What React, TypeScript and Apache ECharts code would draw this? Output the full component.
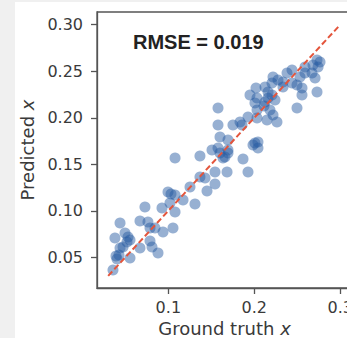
import React, { useEffect, useRef } from "react";
import * as echarts from "echarts";

const groundTruth = [
  0.0356, 0.0391, 0.0426, 0.0403, 0.0438, 0.0379, 0.0496, 0.0531, 0.0554, 0.0519,
  0.0473, 0.0438, 0.0554, 0.0670, 0.0728, 0.0670, 0.0763, 0.0787, 0.0845, 0.0787,
  0.0810, 0.0880, 0.0938, 0.1054, 0.0926, 0.0996, 0.1031, 0.1019, 0.1078, 0.1171,
  0.1310, 0.1078, 0.1252, 0.1368, 0.1427, 0.1450, 0.1078, 0.1368, 0.1508, 0.1601,
  0.1659, 0.1694, 0.1869, 0.1985, 0.2043, 0.1543, 0.1683, 0.1927, 0.1543, 0.1578,
  0.1636, 0.1694, 0.1578, 0.1578, 0.1752, 0.1834, 0.1927, 0.2032, 0.2148, 0.2218,
  0.2264, 0.1601, 0.1694, 0.2008, 0.2043, 0.1950, 0.2008, 0.2125, 0.2206, 0.1857,
  0.2032, 0.2183, 0.2113, 0.2032, 0.2160, 0.2020, 0.2125, 0.2160, 0.2206, 0.2218,
  0.2276, 0.2334, 0.2381, 0.2439, 0.2439, 0.2497, 0.2555, 0.2555, 0.2532, 0.2590,
  0.2590, 0.2672, 0.2707, 0.2683, 0.2730, 0.2742, 0.2765, 0.2730, 0.2497, 0.2241,
  0.2334,
];
const predicted = [
  0.0364, 0.0514, 0.0525, 0.0482, 0.0869, 0.0708, 0.0761, 0.0718, 0.0686, 0.0665,
  0.0611, 0.0600, 0.0493, 0.0600, 0.1041, 0.0890, 0.0880, 0.0815, 0.0815, 0.0675,
  0.0611, 0.0546, 0.0772, 0.0815, 0.1030, 0.1202, 0.1181, 0.1084, 0.0987, 0.1116,
  0.1073, 0.1170, 0.1256, 0.1363, 0.1353, 0.1213, 0.1568, 0.1589, 0.1654, 0.1621,
  0.1578, 0.1621, 0.1557, 0.1707, 0.1675, 0.1417, 0.1417, 0.1417, 0.1288, 0.1675,
  0.1568, 0.1654, 0.2105, 0.1922, 0.1922, 0.1955, 0.2008, 0.1998, 0.1976, 0.2030,
  0.1955, 0.1793, 0.1761, 0.1729, 0.1740, 0.2245, 0.2159, 0.2170, 0.2245, 0.1922,
  0.2084, 0.2084, 0.2127, 0.2213, 0.2213, 0.2320, 0.2331, 0.2277, 0.2374, 0.2438,
  0.2406, 0.2385, 0.2481, 0.2514, 0.2374, 0.2352, 0.2320, 0.2245, 0.2438, 0.2481,
  0.2546, 0.2481, 0.2428, 0.2567, 0.2621, 0.2546, 0.2600, 0.2277, 0.2105, 0.2191,
  0.2331,
];
const identityLine = [0.03, 0.30];
const xTicks = [0.1, 0.2, 0.3];
const yTicks = [0.05, 0.1, 0.15, 0.2, 0.25, 0.3];
const rmseLabel = "RMSE = 0.019";
const xName = "Ground truth";
const yName = "Predicted";

export default function App() {
  const ref = useRef<HTMLDivElement>(null);
  useEffect(() => {
    if (!ref.current) return;
    const chart = echarts.init(ref.current, undefined, { renderer: "svg" });
    const axisColor = "#555";
    const textColor = "#3a3a3a";
    const font = "DejaVu Sans";
    chart.setOption({
      animation: false,
      backgroundColor: "transparent",
      grid: {
        left: 82,
        top: 12,
        width: 255,
        height: 276,
        show: true,
        backgroundColor: "#fff",
        borderColor: axisColor,
        borderWidth: 1.3,
        containLabel: false,
        outerBoundsMode: "none",
      },
      xAxis: {
        type: "value",
        min: 0.017,
        max: 0.3137,
        name: `{a|${xName} }{b|x}`,
        nameLocation: "middle",
        nameGap: 24,
        nameTextStyle: {
          rich: {
            a: { fontFamily: font, fontSize: 18, color: textColor },
            b: { fontFamily: font, fontSize: 18, color: textColor, fontStyle: "italic" },
          },
        },
        axisLine: { show: true, lineStyle: { color: axisColor, width: 1.3 } },
        axisTick: { show: true, length: 6, customValues: xTicks, lineStyle: { color: axisColor, width: 1.3 } },
        axisLabel: {
          customValues: xTicks,
          margin: 11,
          fontFamily: font,
          fontSize: 16,
          color: textColor,
          formatter: (v: number) => v.toFixed(1),
        },
        splitLine: { show: false },
      },
      yAxis: {
        type: "value",
        min: 0.017,
        max: 0.3137,
        name: `{a|${yName} }{b|x}`,
        nameLocation: "middle",
        nameGap: 60,
        nameTextStyle: {
          rich: {
            a: { fontFamily: font, fontSize: 18, color: textColor },
            b: { fontFamily: font, fontSize: 18, color: textColor, fontStyle: "italic" },
          },
        },
        axisLine: { show: true, lineStyle: { color: axisColor, width: 1.3 } },
        axisTick: { show: true, length: 6, customValues: yTicks, lineStyle: { color: axisColor, width: 1.3 } },
        axisLabel: {
          customValues: yTicks,
          margin: 14,
          fontFamily: font,
          fontSize: 16,
          color: textColor,
          formatter: (v: number) => v.toFixed(2),
        },
        splitLine: { show: false },
      },
      graphic: [
        {
          type: "text",
          x: 118,
          y: 42,
          style: {
            text: rmseLabel,
            fontFamily: "Liberation Sans",
            fontSize: 20,
            fontWeight: "bold",
            fill: "#222",
            verticalAlign: "middle",
          },
          z: 10,
        },
      ],
      series: [
        {
          type: "scatter",
          data: groundTruth.map((g, i) => [g, predicted[i]]),
          symbolSize: 11,
          itemStyle: { color: "rgba(38,90,160,0.6)" },
          z: 2,
        },
        {
          type: "line",
          data: identityLine.map((v) => [v, v]),
          symbol: "none",
          lineStyle: { color: "#e4553c", width: 2, type: [6, 3] },
          z: 3,
        },
      ],
    });
    return () => chart.dispose();
  }, []);
  return (
    <div style={{ position: "fixed", left: 0, top: 0, width: 400, height: 400, background: "#fff", overflow: "hidden" }}>
      <div style={{ position: "absolute", left: 0, top: 0, width: 15, height: 400, background: "#f0f0f0" }} />
      <div style={{ position: "absolute", left: 0, top: 0, width: 400, height: 2, background: "#f0f0f0" }} />
      <div ref={ref} style={{ position: "absolute", left: 15, top: 0, width: 385, height: 400 }} />
    </div>
  );
}
